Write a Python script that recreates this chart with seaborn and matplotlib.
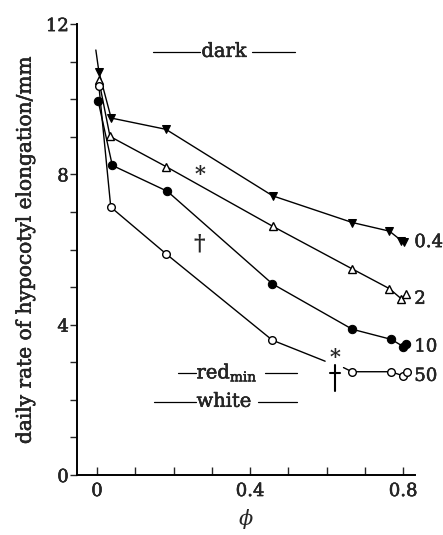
import numpy as np
import pandas as pd
import matplotlib
matplotlib.use("Agg")
import matplotlib.pyplot as plt
import matplotlib.patheffects as pe
from matplotlib.ticker import MultipleLocator
import seaborn as sns

# hypocotyl elongation rate vs phytochrome photoequilibrium (phi), per fluence series
phi_04 = [0.005, 0.037, 0.18, 0.459, 0.667, 0.764, 0.795, 0.802]
rate_04 = [10.73, 9.50, 9.20, 7.43, 6.72, 6.49, 6.24, 6.20]

phi_2 = [0.005, 0.034, 0.18, 0.459, 0.666, 0.764, 0.795, 0.808]
rate_2 = [10.50, 9.01, 8.21, 6.62, 5.49, 4.96, 4.69, 4.82]

phi_10 = [0.003, 0.04, 0.184, 0.458, 0.667, 0.769, 0.800, 0.806]
rate_10 = [9.96, 8.24, 7.55, 5.09, 3.88, 3.61, 3.42, 3.48]

phi_50 = [0.005, 0.036, 0.18, 0.458, 0.666, 0.768, 0.800, 0.810]
rate_50 = [10.35, 7.13, 5.89, 3.59, 2.75, 2.75, 2.64, 2.75]

# break in the 50 curve between these two phi values
gap_phi = [0.596, 0.644]
gap_rate = [3.03, 2.86]

# common starting segment above the first points
start_phi = [-0.003, 0.005]
start_rate = [11.31, 10.73]

series_labels = ["0.4", "2", "10", "50"]

# reference light levels (rate, label)
ref_levels = [11.26, 2.72, 1.95]
ref_names = ["dark", "red", "white"]

x_ticks = [0, 0.4, 0.8]
y_ticks = [0, 4, 8, 12]

sns.set_theme(style="white")
plt.rcParams["font.family"] = ["DejaVu Serif"]
plt.rcParams["mathtext.fontset"] = "dejavuserif"

# slightly heavier strokes for all lettering
heavy = [pe.withStroke(linewidth=0.35, foreground="black")]

fig = plt.figure(figsize=(4.43, 5.35), dpi=100)
ax = fig.add_axes([0.174, 0.112, 0.763, 0.843])

line_kw = dict(color="black", linewidth=1.0, estimator=None, sort=False, ax=ax, legend=False)

sns.lineplot(x=start_phi, y=start_rate, **line_kw)
sns.lineplot(x=phi_04, y=rate_04, marker="v", markersize=6, markerfacecolor="black",
             markeredgecolor="black", **line_kw)
sns.lineplot(x=phi_2, y=rate_2, marker="^", markersize=5.5, markerfacecolor="white",
             markeredgecolor="black", markeredgewidth=1.0, **line_kw)
sns.lineplot(x=phi_10, y=rate_10, marker="o", markersize=6, markerfacecolor="black",
             markeredgecolor="black", **line_kw)

# 50 series: lines with a break, then the markers
sns.lineplot(x=phi_50[:4] + gap_phi[:1], y=rate_50[:4] + gap_rate[:1], **line_kw)
sns.lineplot(x=gap_phi[1:] + phi_50[4:], y=gap_rate[1:] + rate_50[4:], **line_kw)
ax.plot(phi_50, rate_50, linestyle="none", marker="o", markersize=5.5,
        markerfacecolor="white", markeredgecolor="black", markeredgewidth=1.0, zorder=3)

# series labels at the right end of each curve
for lab, yv in zip(series_labels, [rate_04[-1], rate_2[-2], rate_10[-2], rate_50[-2]]):
    ax.text(0.829, yv, lab, fontsize=13, va="center", ha="left", clip_on=False,
            path_effects=heavy)

# reference light levels with flanking rules
ref_cfg = [
    (0.332, "dark", (0.146, 0.270), (0.404, 0.518)),
    (0.340, r"red$_{\mathregular{min}}$", (0.212, 0.258), (0.440, 0.523)),
    (0.332, "white", (0.148, 0.258), (0.420, 0.523)),
]
for yv, (xc, txt, l1, l2) in zip(ref_levels, ref_cfg):
    ax.text(xc, yv, txt, fontsize=14, ha="center", va="center", path_effects=heavy)
    ax.plot(l1, [yv, yv], color="black", linewidth=0.9)
    ax.plot(l2, [yv, yv], color="black", linewidth=0.9)

# significance marks
ax.text(0.27, 8.0, "*", fontsize=15, ha="center", va="center", fontweight="bold")
ax.text(0.268, 6.15, "\u2020", fontsize=16, ha="center", va="center", fontweight="bold")
ax.text(0.622, 3.15, "*", fontsize=15, ha="center", va="center", fontweight="bold")
ax.plot([0.622, 0.622], [2.25, 2.92], color="black", linewidth=1.5)
ax.plot([0.609, 0.635], [2.72, 2.72], color="black", linewidth=1.5)

ax.set_xlim(-0.052, 0.831)
ax.set_ylim(0, 12)
ax.set_xticks(x_ticks)
ax.set_xticklabels([f"{v:g}" for v in x_ticks])
ax.xaxis.set_minor_locator(MultipleLocator(0.1))
ax.set_yticks(y_ticks)
ax.yaxis.set_minor_locator(MultipleLocator(1))

for s in ["top", "right"]:
    ax.spines[s].set_visible(False)
for s in ["left", "bottom"]:
    ax.spines[s].set_linewidth(1.4)
    ax.spines[s].set_color("black")

ax.tick_params(axis="x", which="both", direction="in", length=6, width=1.0,
               labelsize=13, pad=5, bottom=True)
ax.tick_params(axis="y", which="both", direction="out", length=5, width=1.0,
               labelsize=13, pad=1, left=True)
for lbl in ax.get_xticklabels() + ax.get_yticklabels():
    lbl.set_path_effects(heavy)

ax.set_xlabel(r"$\phi$", fontsize=15, labelpad=5)
ax.set_ylabel("daily rate of hypocotyl elongation/mm", fontsize=14.5, labelpad=8,
              path_effects=heavy)

fig.savefig("out.png", dpi=100)
